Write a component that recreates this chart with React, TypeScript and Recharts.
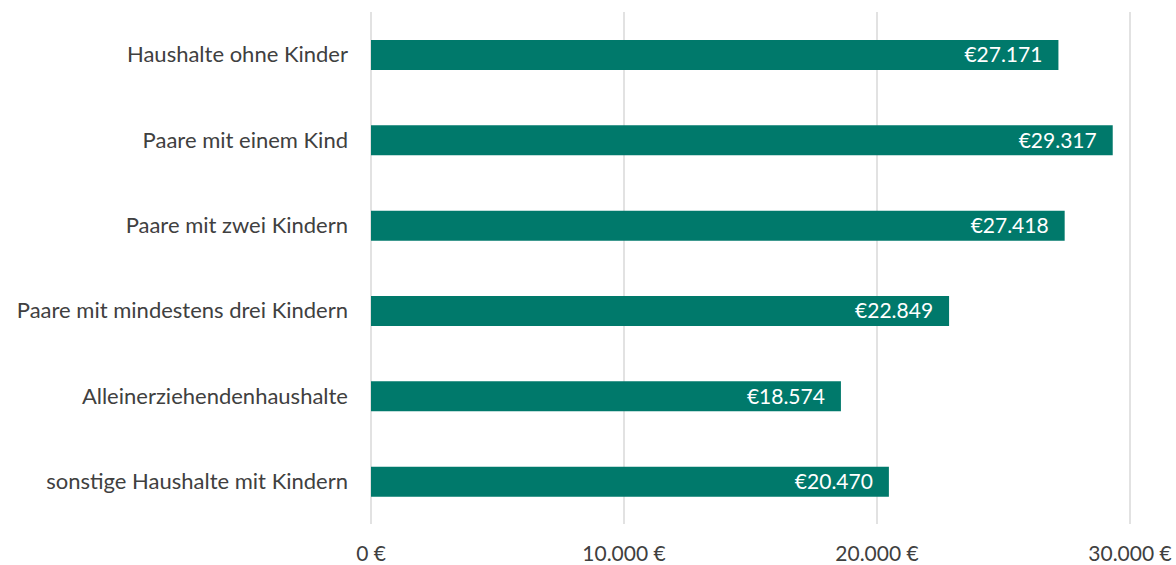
import { Bar, BarChart, CartesianGrid, LabelList, XAxis, YAxis } from "recharts";

const haushalte = [
  "Haushalte ohne Kinder",
  "Paare mit einem Kind",
  "Paare mit zwei Kindern",
  "Paare mit mindestens drei Kindern",
  "Alleinerziehendenhaushalte",
  "sonstige Haushalte mit Kindern",
];
const einkommen = [27171, 29317, 27418, 22849, 18574, 20470];
const xTicks = [0, 10000, 20000, 30000];

const data = haushalte.map((name, i) => ({ name, wert: einkommen[i] }));

// 27171 -> "27.171"
const punkte = (v: number) => String(Math.round(v)).replace(/\B(?=(\d{3})+(?!\d))/g, ".");

export default function App() {
  return (
    <div style={{ position: "absolute", left: 0, top: 0, background: "#fff" }}>
      <BarChart
        width={1176}
        height={565}
        data={data}
        layout="vertical"
        margin={{ top: 12, right: 46, bottom: 0, left: 0 }}
        barCategoryGap={0}
        style={{ fontFamily: "Lato, sans-serif" }}
      >
        <CartesianGrid horizontal={false} stroke="#d9d9d9" strokeWidth={1.5} />
        <XAxis
          type="number"
          domain={[0, 30000]}
          ticks={xTicks}
          axisLine={false}
          tickLine={false}
          height={41}
          tickMargin={16}
          tickFormatter={(v: number) => `${punkte(v)} €`}
          tick={{ fill: "#404040", fontSize: 21 }}
        />
        <YAxis
          type="category"
          dataKey="name"
          width={371}
          axisLine={false}
          tickLine={false}
          tickMargin={17}
          tick={{ fill: "#404040", fontSize: 22 }}
        />
        <Bar dataKey="wert" fill="#00796b" barSize={30} isAnimationActive={false}>
          <LabelList
            dataKey="wert"
            position="insideRight"
            offset={16}
            fill="#ffffff"
            fontSize={21}
            formatter={(v: number) => `€${punkte(v)}`}
          />
        </Bar>
      </BarChart>
    </div>
  );
}
